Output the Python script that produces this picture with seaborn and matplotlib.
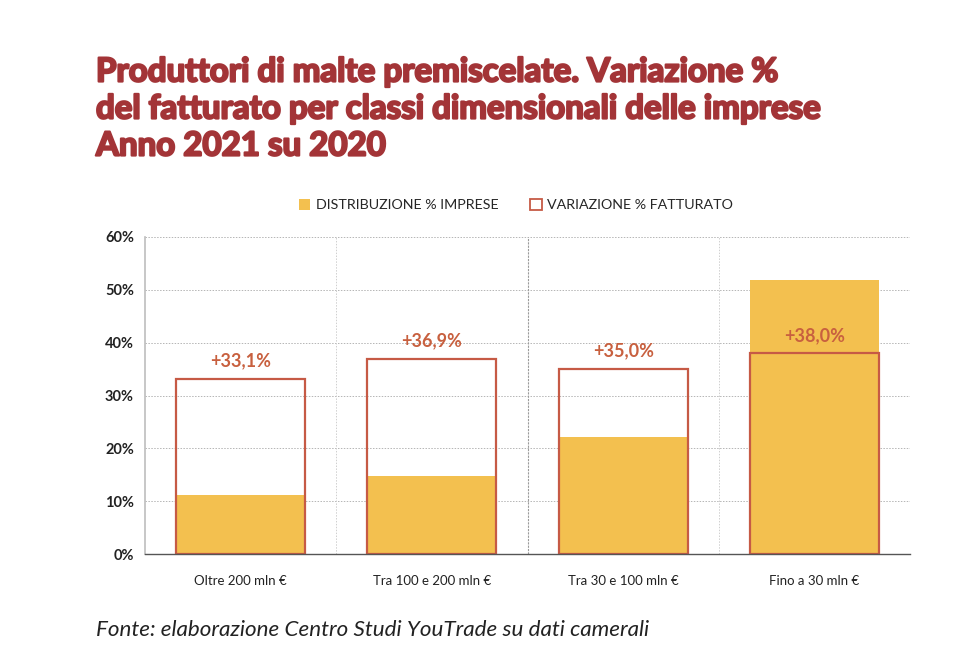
import matplotlib
matplotlib.use("Agg")
import matplotlib.pyplot as plt
import matplotlib.patheffects as pe
import seaborn as sns
import pandas as pd
from matplotlib.patches import Patch
from matplotlib.ticker import FixedLocator

categories = ["Oltre 200 mln €", "Tra 100 e 200 mln €", "Tra 30 e 100 mln €", "Fino a 30 mln €"]
distribuzione_imprese = [11.1, 14.8, 22.1, 51.8]
variazione_fatturato = [33.1, 36.9, 35.0, 38.0]
variazione_labels = ["+33,1%", "+36,9%", "+35,0%", "+38,0%"]
y_ticks = [0, 10, 20, 30, 40, 50, 60]
y_tick_labels = ["0%", "10%", "20%", "30%", "40%", "50%", "60%"]

df = pd.DataFrame({"cat": categories, "dist": distribuzione_imprese, "var": variazione_fatturato})

sns.set_theme(style="white")
plt.rcParams['font.family'] = ['Lato', 'DejaVu Sans']

YELLOW = "#F3C04F"
RED = "#C65A45"
LABEL_RED = "#C8603F"
TITLE_RED = "#A33437"

fig = plt.figure(figsize=(9.58, 6.58), dpi=100)
ax = fig.add_axes([145/958, 1-554/658, (910-145)/958, (554-237)/658])

sns.barplot(data=df, x="cat", y="dist", color=YELLOW, width=0.675, ax=ax,
            saturation=1, edgecolor="none", linewidth=0, zorder=3)
sns.barplot(data=df, x="cat", y="var", width=0.675, ax=ax, fill=False,
            color=RED, edgecolor=RED, linewidth=1.6, saturation=1, zorder=4)

for i, (v, lab) in enumerate(zip(variazione_fatturato, variazione_labels)):
    ax.text(i, v + 3.4, lab, ha="center", va="center", color=LABEL_RED,
            fontsize=13, fontweight="bold", zorder=5)

ax.set_ylim(0, 60)
ax.set_xlim(-0.5, 3.5)
ax.set_yticks(y_ticks)
ax.set_yticklabels(y_tick_labels)
ax.set_xlabel("")
ax.set_ylabel("")

# grid
for y in y_ticks[1:]:
    ax.axhline(y, color="#b5b5b5", lw=0.7, ls=(0, (1.5, 1.5)), zorder=1)
for xb in [0.5, 2.5, 3.5]:
    ax.axvline(xb, color="#cfcfcf", lw=0.7, ls=(0, (1.5, 1.5)), zorder=1)
ax.axvline(1.5, color="#9a9a9a", lw=0.8, ls=(0, (2, 1)), zorder=1)

for s in ["top", "right"]:
    ax.spines[s].set_visible(False)
ax.spines["left"].set_color("#bdbdbd")
ax.spines["left"].set_linewidth(1.2)
ax.spines["bottom"].set_color("#555555")
ax.spines["bottom"].set_linewidth(1.0)
ax.spines["bottom"].set_zorder(6)

ax.xaxis.set_minor_locator(FixedLocator([-0.5, 0.5, 1.5, 2.5, 3.5]))
ax.tick_params(axis="x", which="major", length=0, pad=15, labelsize=9.5, colors="#222222")
ax.tick_params(axis="x", which="minor", length=5, width=0.8, color="#777777", direction="out")
ax.tick_params(axis="y", length=4, width=0.8, color="#999999", labelsize=10.5, colors="#222222", pad=4)
for lbl in ax.get_yticklabels():
    lbl.set_fontweight("bold")

handles = [Patch(facecolor=YELLOW, edgecolor="none", label="DISTRIBUZIONE % IMPRESE"),
           Patch(facecolor="white", edgecolor=RED, linewidth=1.3, label="VARIAZIONE % FATTURATO")]
fig.legend(handles=handles, loc="center", bbox_to_anchor=(516/958, 1-205/658), ncol=2,
           frameon=False, fontsize=10.3, handlelength=0.8, handleheight=0.8,
           columnspacing=2.2, handletextpad=0.4)

title_lines = ["Produttori di malte premiscelate. Variazione %",
               "del fatturato per classi dimensionali delle imprese",
               "Anno 2021 su 2020"]
for k, line in enumerate(title_lines):
    fig.text(96/958, 1-(72 + 37*k)/658, line, ha="left", va="center",
             fontsize=23.8, fontweight="bold", color=TITLE_RED,
             path_effects=[pe.withStroke(linewidth=1.6, foreground=TITLE_RED)])

fig.text(96/958, 1-630/658, "Fonte: elaborazione Centro Studi YouTrade su dati camerali",
         ha="left", va="center", fontsize=16.1, fontstyle="italic", color="#222222")

fig.savefig("out.png", dpi=100)
